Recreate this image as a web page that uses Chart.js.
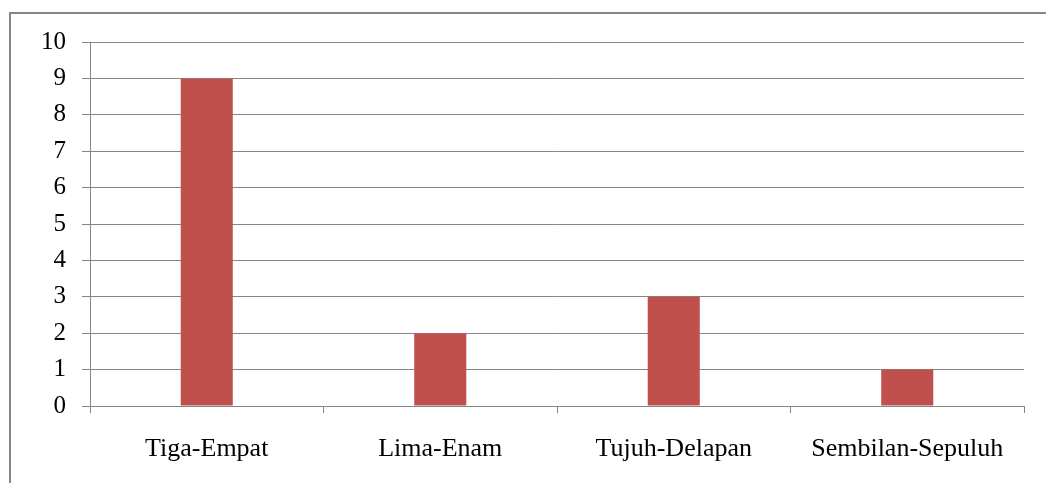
<!DOCTYPE html>
<html>
<head>
<meta charset="utf-8">
<script src="https://cdn.jsdelivr.net/npm/chart.js@4/dist/chart.umd.min.js"></script>
<style>
  html, body { margin: 0; padding: 0; background: #ffffff; }
  canvas { display: block; }
</style>
</head>
<body>
<canvas id="chart" width="1046" height="483"></canvas>
<script>
// Age groups and the number of respondents in each
const categories = ['Tiga-Empat', 'Lima-Enam', 'Tujuh-Delapan', 'Sembilan-Sepuluh'];
const counts = [9, 2, 3, 1];
const yMin = 0;
const yMax = 10;
const yStep = 1;

const gridColor = '#868686';
const fontFamily = '"Liberation Serif", "Times New Roman", serif';

// Open frame around the chart: top edge and left edge
const framePlugin = {
  id: 'frame',
  beforeDraw(chart) {
    const ctx = chart.ctx;
    ctx.save();
    ctx.fillStyle = '#ffffff';
    ctx.fillRect(0, 0, chart.width, chart.height);
    ctx.strokeStyle = gridColor;
    ctx.lineWidth = 2;
    ctx.beginPath();
    ctx.moveTo(chart.width, 13);
    ctx.lineTo(10, 13);
    ctx.lineTo(10, chart.height);
    ctx.stroke();
    ctx.restore();
  }
};

new Chart(document.getElementById('chart'), {
  type: 'bar',
  data: {
    labels: categories,
    datasets: [{
      data: counts,
      backgroundColor: '#C0504D',
      borderWidth: 0,
      categoryPercentage: 1.0,
      barPercentage: 0.223
    }]
  },
  options: {
    responsive: false,
    animation: false,
    layout: { padding: { left: 0, right: 22, top: 42, bottom: 0 } },
    plugins: {
      legend: { display: false },
      tooltip: { enabled: false }
    },
    scales: {
      x: {
        grid: {
          display: true,
          offset: true,
          drawOnChartArea: false,
          drawTicks: true,
          tickLength: 7,
          color: gridColor,
          lineWidth: 1
        },
        border: { display: false },
        ticks: {
          color: '#000000',
          font: { family: fontFamily, size: 26 },
          padding: 21,
          maxRotation: 0
        },
        afterFit(scale) { scale.height = 77; }
      },
      y: {
        min: yMin,
        max: yMax,
        grid: {
          color: gridColor,
          lineWidth: 1,
          tickLength: 8,
          drawTicks: true
        },
        border: { display: true, color: gridColor, width: 1 },
        ticks: {
          stepSize: yStep,
          color: '#000000',
          font: { family: fontFamily, size: 25 },
          padding: 16
        },
        afterFit(scale) { scale.width = 90; }
      }
    }
  },
  plugins: [framePlugin]
});
</script>
</body>
</html>
